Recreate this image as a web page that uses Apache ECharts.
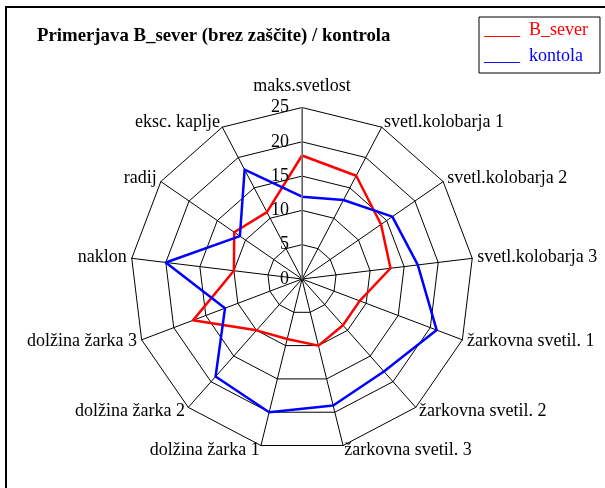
<!DOCTYPE html>
<html>
<head>
<meta charset="utf-8">
<script src="https://cdn.jsdelivr.net/npm/echarts@6/dist/echarts.min.js"></script>
<style>
  html, body { margin: 0; padding: 0; background: #fff; }
  #chart { width: 605px; height: 488px; }
</style>
</head>
<body>
<div id="chart"></div>
<script>
// categories in the order Excel draws them (clockwise from top)
const categories = ['maks.svetlost', 'svetl.kolobarja 1', 'svetl.kolobarja 2', 'svetl.kolobarja 3',
    'žarkovna svetil. 1', 'žarkovna svetil. 2', 'žarkovna svetil. 3', 'dolžina žarka 1',
    'dolžina žarka 2', 'dolžina žarka 3', 'naklon', 'radij', 'eksc. kaplje'];
const bSever = [18, 17, 14, 13, 9, 9, 10, 9, 10, 17, 10, 12, 11];
const kontola = [12, 13, 16, 17, 21, 18, 19, 20, 19, 12, 20, 11, 18];
const seriesNames = ['B_sever', 'kontola'];
const axisMin = 0;
const axisMax = 25;
const axisStep = 5;

const serif = '"Liberation Serif", "Times New Roman", serif';
const center = [302, 279];
const radius = 171.5;

// echarts lays indicators out counter-clockwise, so flip everything after the first one
const order = [0].concat(categories.map((c, i) => i).slice(1).reverse());
const pick = arr => order.map(i => arr[i]);

const chart = echarts.init(document.getElementById('chart'));

chart.setOption({
    animation: false,
    title: {
        text: 'Primerjava B_sever (brez zaščite) / kontrola',
        left: 37,
        top: 27,
        padding: 0,
        textStyle: {
            fontFamily: serif,
            fontSize: 18.8,
            fontWeight: 'bold',
            color: '#000'
        }
    },
    legend: {
        orient: 'vertical',
        left: 479,
        top: 17,
        icon: 'none',
        itemWidth: 0,
        itemGap: 8,
        padding: [4, 12, 8, 0],
        borderColor: '#000',
        borderWidth: 1,
        selectedMode: false,
        formatter: name => '{u|____}{t|' + name + '}',
        textStyle: {
            fontFamily: serif,
            fontSize: 18,
            rich: {
                u: {width: 45, fontFamily: serif, fontSize: 18},
                t: {fontFamily: serif, fontSize: 18}
            }
        },
        data: [
            {name: seriesNames[0], textStyle: {color: '#ff0000'}},
            {name: seriesNames[1], textStyle: {color: '#0000ff'}}
        ]
    },
    radar: {
        center: center,
        radius: radius,
        startAngle: 90,
        shape: 'polygon',
        splitNumber: 5,
        indicator: pick(categories).map(name => ({name: name, min: axisMin, max: axisMax})),
        axisName: {
            color: '#000',
            fontFamily: serif,
            fontSize: 18,
            // tall line box lifts only the bottom-aligned top label
            lineHeight: 32
        },
        nameGap: 5,
        axisLine: {lineStyle: {color: '#000', width: 1}},
        splitLine: {lineStyle: {color: '#000', width: 1}},
        splitArea: {show: false},
        axisTick: {show: false},
        axisLabel: {show: false}
    },
    // polar only carries the value axis (tick labels on the top spoke)
    polar: {center: center, radius: radius},
    angleAxis: {show: false, type: 'value', startAngle: 90, min: 0, max: 360},
    radiusAxis: {
        type: 'value',
        min: axisMin,
        max: axisMax,
        interval: axisStep,
        z: 5,
        axisLine: {show: true, lineStyle: {color: '#808080', width: 1.5}},
        axisTick: {show: false},
        splitLine: {show: false},
        axisLabel: {
            margin: 13,
            color: '#000',
            fontFamily: serif,
            fontSize: 18
        }
    },
    graphic: [{
        type: 'rect',
        shape: {x: 6, y: 7, width: 700, height: 700},
        style: {fill: null, stroke: '#000', lineWidth: 2},
        silent: true
    }],
    series: [{
        type: 'radar',
        symbol: 'none',
        z: 4,
        data: [
            {name: seriesNames[0], value: pick(bSever), lineStyle: {color: '#ff0000', width: 2.5}, itemStyle: {color: '#ff0000'}},
            {name: seriesNames[1], value: pick(kontola), lineStyle: {color: '#0000ff', width: 2.5}, itemStyle: {color: '#0000ff'}}
        ]
    }]
});
</script>
</body>
</html>
